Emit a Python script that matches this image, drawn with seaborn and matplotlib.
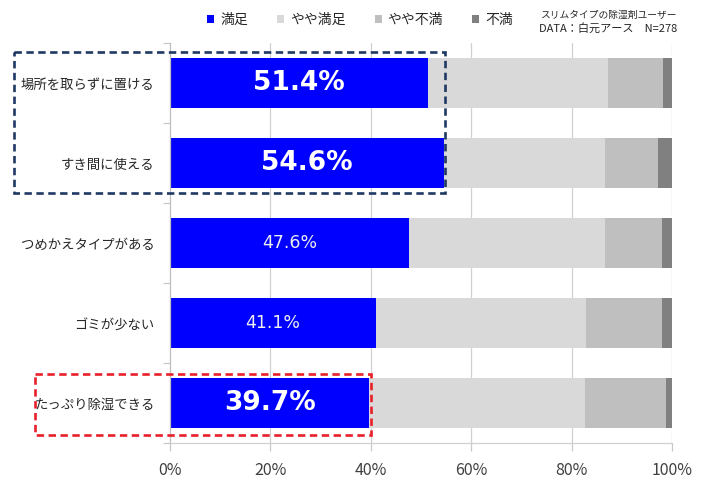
import matplotlib
matplotlib.use("Agg")
import matplotlib.pyplot as plt
from matplotlib.patches import Patch, Rectangle
import numpy as np
import pandas as pd
import seaborn as sns

# ---- data ----
categories = ["場所を取らずに置ける", "すき間に使える", "つめかえタイプがある", "ゴミが少ない", "たっぷり除湿できる"]
satisfied = [51.4, 54.6, 47.6, 41.1, 39.7]
somewhat_satisfied = [35.9, 32.1, 39.1, 41.7, 42.9]
somewhat_dissatisfied = [10.9, 10.5, 11.3, 15.2, 16.3]
dissatisfied = [1.8, 2.8, 2.0, 2.0, 1.1]
series_names = ["満足", "やや満足", "やや不満", "不満"]
x_ticks = [0, 20, 40, 60, 80, 100]
x_tick_labels = ["0%", "20%", "40%", "60%", "80%", "100%"]
note_line1 = "スリムタイプの除湿剤ユーザー"
note_line2 = "DATA：白元アース　N=278"

colors = ["#0000FF", "#D9D9D9", "#BFBFBF", "#808080"]
big_label = [True, True, False, False, True]

sns.set_theme(style="white")
plt.rcParams["font.family"] = ["Noto Sans CJK JP", "DejaVu Sans"]

fig = plt.figure(figsize=(7.09, 4.80), dpi=100)
ax = fig.add_axes([170 / 709, 1 - 443 / 480, 502 / 709, 400 / 480])

df = pd.DataFrame({
    "cat": categories,
    "s1": satisfied,
    "s2": somewhat_satisfied,
    "s3": somewhat_dissatisfied,
    "s4": dissatisfied,
})
cum = df[["s1", "s2", "s3", "s4"]].cumsum(axis=1)

# overlay cumulative bars, widest first
for col, c in zip(["s4", "s3", "s2", "s1"], colors[::-1]):
    sns.barplot(x=cum[col], y=df["cat"], orient="h", color=c, saturation=1,
                width=0.625, linewidth=0, ax=ax, zorder=2)

ax.set_xlim(0, 100)
ax.set_ylim(4.5, -0.5)
ax.set_xlabel("")
ax.set_ylabel("")

# grid
ax.set_axisbelow(True)
for xv in x_ticks[1:]:
    ax.axvline(xv, color="#D0D0D0", lw=0.9, zorder=0)

ax.set_xticks(x_ticks)
ax.set_xticklabels(x_tick_labels, fontsize=11.5, color="#404040")
ax.tick_params(axis="x", direction="out", length=6, color="#C8C8C8", width=0.9, pad=8,
               bottom=True)
ax.set_yticks(range(len(categories)))
ax.set_yticklabels(categories, fontsize=9.6, color="#262626")
ax.tick_params(axis="y", which="major", length=0, pad=11)
ax.set_yticks(np.arange(-0.5, len(categories), 1.0), minor=True)
ax.tick_params(axis="y", which="minor", direction="out", length=5, color="#C8C8C8",
               width=0.9, left=True)

for s in ["top", "right"]:
    ax.spines[s].set_visible(False)
ax.spines["left"].set_color("#BFBFBF")
ax.spines["left"].set_linewidth(0.9)
ax.spines["bottom"].set_color("#D0D0D0")
ax.spines["bottom"].set_linewidth(0.9)

# value labels
for i, v in enumerate(satisfied):
    if big_label[i]:
        ax.text(v / 2, i, f"{v:.1f}%", ha="center", va="center", color="white",
                fontsize=19, fontweight="bold", family="DejaVu Sans", zorder=5)
    else:
        ax.text(v / 2, i, f"{v:.1f}%", ha="center", va="center", color="#EDEDED",
                fontsize=12.5, family="DejaVu Sans", zorder=5)

# highlight boxes
dash = (0, (2.8, 1.7))
ax.add_patch(Rectangle((-31.1, -0.3875), 54.8 + 31.1, 1.375 + 0.3875, fill=False,
                       edgecolor="#1F3864", lw=1.9, ls=dash, clip_on=False, zorder=6))
ax.add_patch(Rectangle((-26.9, 3.6375), 40.0 + 26.9, 4.4 - 3.6375, fill=False,
                       edgecolor="#E8202A", lw=1.9, ls=dash, clip_on=False, zorder=6))

# legend
handles = [Patch(facecolor=c, edgecolor="none") for c in colors]
fig.legend(handles, series_names, loc="center", bbox_to_anchor=(360 / 709, 1 - 20 / 480),
           ncol=4, frameon=False, handlelength=0.5, handleheight=0.5, handletextpad=0.43,
           columnspacing=2.1, fontsize=10, labelcolor="#262626")

fig.text(677 / 709, 1 - 15 / 480, note_line1, ha="right", va="center", fontsize=7, color="#262626")
fig.text(677 / 709, 1 - 28 / 480, note_line2, ha="right", va="center", fontsize=8, color="#262626")

fig.savefig("out.png", dpi=100)
